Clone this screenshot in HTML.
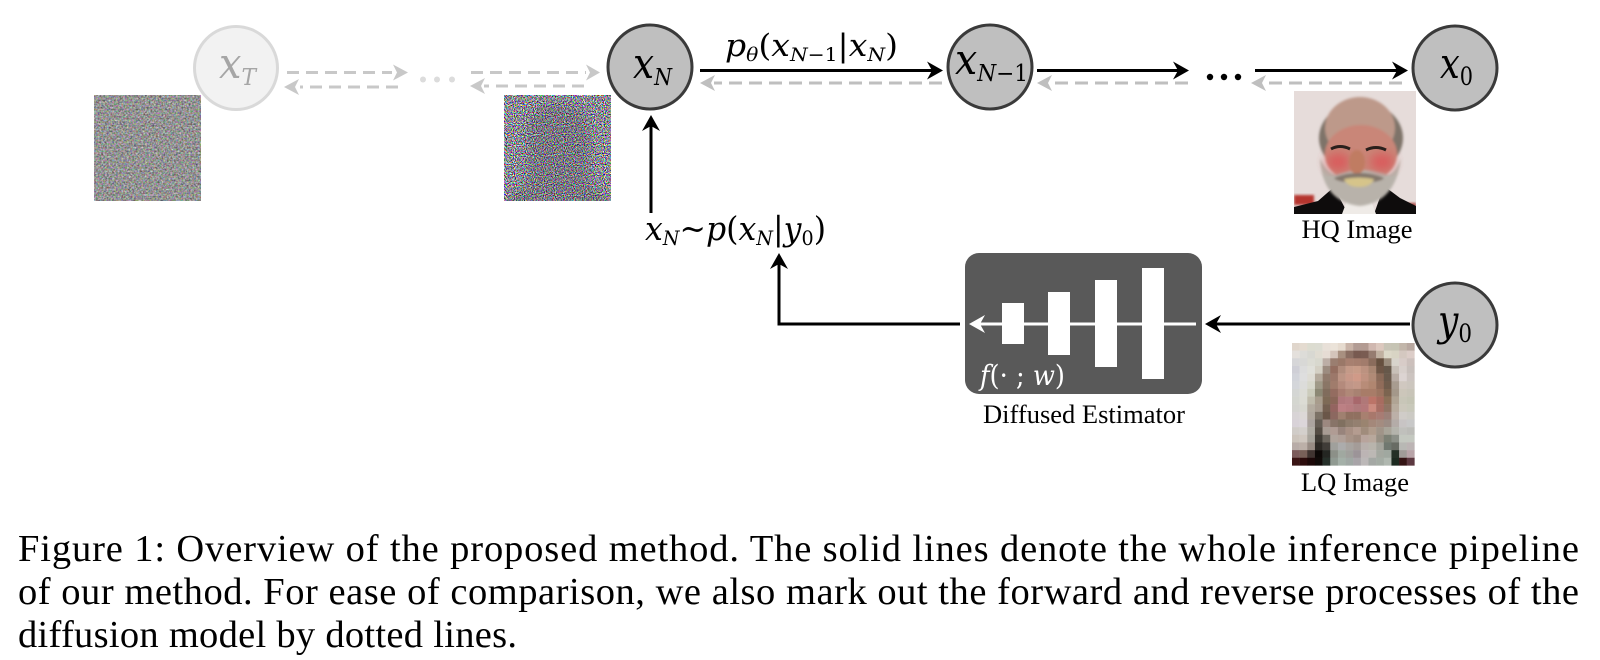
<!DOCTYPE html>
<html><head><meta charset="utf-8"><style>
html,body{margin:0;padding:0;background:#fff;width:1600px;height:660px;overflow:hidden}
svg{display:block}
text{font-family:"Liberation Serif",serif}
text.m{font-family:"DejaVu Serif",serif;font-style:italic}
.r{font-style:normal}
.n{fill:#bfbfbf;stroke:#3a3a3a;stroke-width:3}
.b{stroke:#000;stroke-width:3;fill:none}
.g{stroke:#bfbfbf;stroke-width:3;fill:none;stroke-dasharray:13 7}
.gl{stroke:#c8c8c8;stroke-width:3;fill:none;stroke-dasharray:12 7}
#q rect{width:1.03px;height:1.03px}
</style></head><body>
<svg width="1600" height="660" viewBox="0 0 1600 660" xmlns="http://www.w3.org/2000/svg">
<defs>
<filter id="nz1" x="0" y="0" width="100%" height="100%" color-interpolation-filters="sRGB"><feTurbulence type="fractalNoise" baseFrequency="0.55" numOctaves="2" seed="4"/><feColorMatrix type="matrix" values="0.75 0.15 0.15 0 0.05  0.15 0.75 0.15 0 0.05  0.15 0.15 0.75 0 0.05  0 0 0 0 1"/></filter>
<filter id="nz2" x="0" y="0" width="100%" height="100%" color-interpolation-filters="sRGB"><feTurbulence type="fractalNoise" baseFrequency="0.9" numOctaves="1" seed="9"/><feColorMatrix type="matrix" values="3.4 0 0 0 -1.15  0 3.4 0 0 -1.15  0 0 3.4 0 -1.1  0 0 0 0 1"/></filter>
<filter id="bl" x="-20%" y="-20%" width="140%" height="140%"><feGaussianBlur stdDeviation="1.2"/></filter>
<filter id="bl2" x="-30%" y="-30%" width="160%" height="160%"><feGaussianBlur stdDeviation="5"/></filter>
<clipPath id="c1"><rect x="1294" y="91" width="122" height="123"/></clipPath>
<clipPath id="c2"><rect x="504" y="95" width="107" height="106"/></clipPath>
</defs>

<!-- noise images -->
<rect x="94" y="95" width="107" height="106" filter="url(#nz1)"/>
<rect x="504" y="95" width="107" height="106" filter="url(#nz2)"/>
<g clip-path="url(#c2)"><g opacity=".2" filter="url(#bl2)"><path d="M527 205V135Q527 103 558 103Q590 103 590 135V205Z" fill="#3a3040"/><path d="M504 205l18-18 16 18zM611 205l-18-18-16 18z" fill="#102018"/></g></g>

<!-- faded node -->
<circle cx="236" cy="68" r="41.5" fill="#f2f2f2" stroke="#d9d9d9" stroke-width="3"/>
<text x="219" y="78" class="m" font-size="42" fill="#a6a6a6" textLength="37" lengthAdjust="spacingAndGlyphs">x<tspan font-size="23" dy="7">T</tspan></text>
<path d="M287 72.5H392" class="gl"/><path d="M393 64.5l15 8-15 8 4-8z" fill="#c8c8c8"/>
<path d="M398 87H300" class="gl"/><path d="M299 79l-15 8 15 8-4-8z" fill="#c8c8c8"/>
<g fill="#dcdcdc"><circle cx="423" cy="79.5" r="3"/><circle cx="437" cy="79.5" r="3"/><circle cx="452" cy="79.5" r="3"/></g>
<path d="M471 72.5H586" class="gl"/><path d="M586 64.5l14 8-14 8 4-8z" fill="#c8c8c8"/>
<path d="M584 86H484" class="gl"/><path d="M485 78l-15 8 15 8-4-8z" fill="#c8c8c8"/>

<!-- nodes -->
<circle cx="650" cy="67" r="42" class="n"/>
<circle cx="990" cy="67" r="42" class="n"/>
<circle cx="1455" cy="68" r="42" class="n"/>
<circle cx="1455" cy="325" r="42" class="n"/>
<text x="633" y="78" class="m" font-size="42" textLength="39" lengthAdjust="spacingAndGlyphs">x<tspan font-size="23" dy="7">N</tspan></text>
<text x="955" y="74" class="m" font-size="42" textLength="73" lengthAdjust="spacingAndGlyphs">x<tspan font-size="23" dy="7">N</tspan><tspan font-size="23" class="r">−1</tspan></text>
<text x="1440" y="78" class="m" font-size="42" textLength="33" lengthAdjust="spacingAndGlyphs">x<tspan font-size="25" class="r" dy="7">0</tspan></text>
<text x="1438" y="335" class="m" font-size="42" textLength="34" lengthAdjust="spacingAndGlyphs">y<tspan font-size="25" class="r" dy="7">0</tspan></text>

<!-- top solid arrows -->
<path d="M700 70.5H934" class="b"/><path d="M927 61.5l16 9-16 9 5-9z"/>
<path d="M1037 70.5H1180" class="b"/><path d="M1173 61.5l16 9-16 9 5-9z"/>
<path d="M1255 70.5H1399" class="b"/><path d="M1392 61.5l16 9-16 9 5-9z"/>
<g fill="#000"><circle cx="1210" cy="77" r="3.2"/><circle cx="1224" cy="77" r="3.2"/><circle cx="1238" cy="77" r="3.2"/></g>

<!-- gray reverse arrows -->
<path d="M942 83H714" class="g"/><path d="M715 75l-15 8 15 8-4-8z" fill="#bfbfbf"/>
<path d="M1188 83H1052" class="g"/><path d="M1052 75l-15 8 15 8-4-8z" fill="#bfbfbf"/>
<path d="M1402 83H1266" class="g"/><path d="M1266 75l-15 8 15 8-4-8z" fill="#bfbfbf"/>

<text x="725" y="56" class="m" font-size="31" textLength="173" lengthAdjust="spacingAndGlyphs">p<tspan font-size="19" dy="5">θ</tspan><tspan class="r" dy="-5">(</tspan>x<tspan font-size="19" dy="5">N</tspan><tspan font-size="19" class="r">−1</tspan><tspan class="r" dy="-5">|</tspan>x<tspan font-size="19" dy="5">N</tspan><tspan class="r" dy="-5">)</tspan></text>

<!-- vertical arrow -->
<path d="M651 213V124" class="b"/><path d="M642 131l9-16 9 16-9-5z"/>
<text x="645" y="240" class="m" font-size="33" textLength="181" lengthAdjust="spacingAndGlyphs">x<tspan font-size="20" dy="5">N</tspan><tspan class="r" dy="-5">~</tspan>p<tspan class="r">(</tspan>x<tspan font-size="20" dy="5">N</tspan><tspan class="r" dy="-5">|</tspan>y<tspan font-size="20" class="r" dy="5">0</tspan><tspan class="r" dy="-5">)</tspan></text>

<!-- estimator -->
<path d="M960 324H779V262" class="b"/><path d="M770 269l9-16 9 16-9-5z"/>
<rect x="965" y="253" width="237" height="141" rx="14" fill="#595959"/>
<g fill="#fff"><rect x="1002" y="303" width="22" height="41"/><rect x="1048" y="292" width="22" height="63"/><rect x="1095" y="280" width="22" height="87"/><rect x="1142" y="268" width="22" height="111"/></g>
<path d="M975 324H1196" stroke="#fff" stroke-width="3"/>
<path d="M985 315l-16 9 16 9-5-9z" fill="#fff"/>
<text x="980" y="385" class="m" font-size="28" fill="#fff" textLength="85" lengthAdjust="spacingAndGlyphs">f<tspan class="r">(· ;</tspan> w<tspan class="r">)</tspan></text>
<path d="M1410 324H1214" class="b"/><path d="M1221 315l-16 9 16 9-5-9z"/>
<text x="1084" y="423" font-size="26.5" text-anchor="middle">Diffused Estimator</text>

<!-- HQ face -->
<g clip-path="url(#c1)">
<rect x="1294" y="91" width="122" height="123" fill="#e6dcda"/>
<rect x="1294" y="195" width="20" height="10" fill="#b5352f" filter="url(#bl)"/>
<rect x="1402" y="203" width="14" height="6" fill="#a8403a" filter="url(#bl)"/>
<path d="M1294 214v-7l24-6 16-14 14 27zM1416 214v-8l-16-8-16-12-10 28z" fill="#0e0c0c"/>
<path d="M1342 214l6-16h22l6 16z" fill="#efebe7"/>
<g filter="url(#bl)">
<ellipse cx="1361" cy="138" rx="42" ry="36" fill="#7e7369"/>
<ellipse cx="1360" cy="128" rx="35" ry="31" fill="#bd998a"/>
<ellipse cx="1361" cy="154" rx="36" ry="29" fill="#c98678"/>
<path d="M1320 158q2 44 40 48q36-4 41-48q-5 14-13 17q-26-10-52 0q-10-3-16-17z" fill="#b8b2aa"/>
</g>
<g filter="url(#bl2)" opacity=".85"><ellipse cx="1338" cy="162" rx="12" ry="9" fill="#dc5458"/><ellipse cx="1382" cy="162" rx="12" ry="9" fill="#dc5458"/></g>
<g filter="url(#bl)">
<ellipse cx="1357" cy="162" rx="8" ry="12" fill="#c07c62"/>
<path d="M1334 178q25-10 50 0q-5 5-25 4q-20 1-25-4z" fill="#82766c"/>
<path d="M1344 179q15-3 30 0q-3 8-15 8q-12 0-15-8z" fill="#d6c48a"/>
</g>
<path d="M1331 149q9-5 19 0M1366 150q10-5 20 0" stroke="#2a201c" stroke-width="3" fill="none"/>
</g>
<text x="1357" y="238" font-size="26.5" text-anchor="middle">HQ Image</text>

<!-- LQ mosaic -->
<g id="q" transform="translate(1292 343) scale(7.65)">
<g transform="translate(0 0)"><rect x="0" fill="#e0d6cc"/><rect x="1" fill="#e4dbd0"/><rect x="2" fill="#dcdcd0"/><rect x="3" fill="#dcdcd2"/><rect x="4" fill="#e8e0d8"/><rect x="5" fill="#ebe3d9"/><rect x="6" fill="#e6dbcf"/><rect x="7" fill="#c9b4a8"/><rect x="8" fill="#b29c94"/><rect x="9" fill="#b39b92"/><rect x="10" fill="#d0b8b0"/><rect x="11" fill="#dcc8be"/><rect x="12" fill="#c8c4b6"/><rect x="13" fill="#c6c4b4"/><rect x="14" fill="#c2b6aa"/><rect x="15" fill="#b8a8a0"/></g>
<g transform="translate(0 1)"><rect x="0" fill="#e4e0dc"/><rect x="1" fill="#dddcd8"/><rect x="2" fill="#d8d8d2"/><rect x="3" fill="#e0dcd2"/><rect x="4" fill="#e6dcd4"/><rect x="5" fill="#d4c4ba"/><rect x="6" fill="#a89080"/><rect x="7" fill="#8a6e62"/><rect x="8" fill="#785a50"/><rect x="9" fill="#7a5c52"/><rect x="10" fill="#967c70"/><rect x="11" fill="#c0b0a0"/><rect x="12" fill="#dcd8c8"/><rect x="13" fill="#d8d4c4"/><rect x="14" fill="#d4c8c0"/><rect x="15" fill="#dccdc8"/></g>
<g transform="translate(0 2)"><rect x="0" fill="#d6d6d8"/><rect x="1" fill="#d8d8d6"/><rect x="2" fill="#dcdcd4"/><rect x="3" fill="#d8d8ce"/><rect x="4" fill="#bcaea6"/><rect x="5" fill="#9a7e70"/><rect x="6" fill="#9a7868"/><rect x="7" fill="#a88070"/><rect x="8" fill="#a67e6e"/><rect x="9" fill="#a27c6c"/><rect x="10" fill="#8a6c5c"/><rect x="11" fill="#66503f"/><rect x="12" fill="#9a8c7c"/><rect x="13" fill="#d8d4cc"/><rect x="14" fill="#d8ccc8"/><rect x="15" fill="#ccc0bc"/></g>
<g transform="translate(0 3)"><rect x="0" fill="#cfcfd6"/><rect x="1" fill="#dcdcdc"/><rect x="2" fill="#e0e0da"/><rect x="3" fill="#d4d0c4"/><rect x="4" fill="#9c8c80"/><rect x="5" fill="#946e60"/><rect x="6" fill="#b08c7c"/><rect x="7" fill="#c49a88"/><rect x="8" fill="#c89c88"/><rect x="9" fill="#bc9280"/><rect x="10" fill="#a88672"/><rect x="11" fill="#6e5646"/><rect x="12" fill="#66584a"/><rect x="13" fill="#c8c0b8"/><rect x="14" fill="#d8d0cc"/><rect x="15" fill="#c8c0bc"/></g>
<g transform="translate(0 4)"><rect x="0" fill="#d2d4da"/><rect x="1" fill="#dedede"/><rect x="2" fill="#dedcd4"/><rect x="3" fill="#b4aa9c"/><rect x="4" fill="#907a6c"/><rect x="5" fill="#9c786a"/><rect x="6" fill="#bc9484"/><rect x="7" fill="#c89888"/><rect x="8" fill="#d09a88"/><rect x="9" fill="#c09280"/><rect x="10" fill="#b08a76"/><rect x="11" fill="#8a6a58"/><rect x="12" fill="#6a5a4c"/><rect x="13" fill="#b8aca4"/><rect x="14" fill="#dcd4d2"/><rect x="15" fill="#ccc4c0"/></g>
<g transform="translate(0 5)"><rect x="0" fill="#d4d6da"/><rect x="1" fill="#dcdcda"/><rect x="2" fill="#d8d8cc"/><rect x="3" fill="#a09a88"/><rect x="4" fill="#8a7666"/><rect x="5" fill="#a07c6c"/><rect x="6" fill="#b48a7c"/><rect x="7" fill="#c09688"/><rect x="8" fill="#c49888"/><rect x="9" fill="#b88c78"/><rect x="10" fill="#b08670"/><rect x="11" fill="#906c5a"/><rect x="12" fill="#705c4c"/><rect x="13" fill="#a89c90"/><rect x="14" fill="#d0c8c0"/><rect x="15" fill="#ccc6be"/></g>
<g transform="translate(0 6)"><rect x="0" fill="#d4d6d4"/><rect x="1" fill="#dcdcd6"/><rect x="2" fill="#ccccbc"/><rect x="3" fill="#8c8874"/><rect x="4" fill="#806c5c"/><rect x="5" fill="#946c60"/><rect x="6" fill="#a87c70"/><rect x="7" fill="#b08878"/><rect x="8" fill="#a88272"/><rect x="9" fill="#a87c68"/><rect x="10" fill="#a87c68"/><rect x="11" fill="#9c7460"/><rect x="12" fill="#7c6450"/><rect x="13" fill="#a4988a"/><rect x="14" fill="#ccc6ba"/><rect x="15" fill="#c8c4b8"/></g>
<g transform="translate(0 7)"><rect x="0" fill="#d4d6d0"/><rect x="1" fill="#dcdcd4"/><rect x="2" fill="#c0bcac"/><rect x="3" fill="#a89c8c"/><rect x="4" fill="#7e6a56"/><rect x="5" fill="#8a6658"/><rect x="6" fill="#b0787c"/><rect x="7" fill="#b47c80"/><rect x="8" fill="#a8686c"/><rect x="9" fill="#b07878"/><rect x="10" fill="#bc7468"/><rect x="11" fill="#a86c60"/><rect x="12" fill="#8c7058"/><rect x="13" fill="#b0a494"/><rect x="14" fill="#c8c6b8"/><rect x="15" fill="#c4c4b4"/></g>
<g transform="translate(0 8)"><rect x="0" fill="#d4d4d0"/><rect x="1" fill="#d8d8d0"/><rect x="2" fill="#b4aca0"/><rect x="3" fill="#a89c90"/><rect x="4" fill="#745f50"/><rect x="5" fill="#946460"/><rect x="6" fill="#bc8084"/><rect x="7" fill="#b87c80"/><rect x="8" fill="#b07a7c"/><rect x="9" fill="#b4787a"/><rect x="10" fill="#cc8c80"/><rect x="11" fill="#a86e64"/><rect x="12" fill="#907464"/><rect x="13" fill="#b8ac9e"/><rect x="14" fill="#ccc8bc"/><rect x="15" fill="#c8c8ba"/></g>
<g transform="translate(0 9)"><rect x="0" fill="#d8d4d6"/><rect x="1" fill="#dcd8d6"/><rect x="2" fill="#b0a89e"/><rect x="3" fill="#7c7266"/><rect x="4" fill="#6a5648"/><rect x="5" fill="#8c6860"/><rect x="6" fill="#a08070"/><rect x="7" fill="#907060"/><rect x="8" fill="#907060"/><rect x="9" fill="#a88070"/><rect x="10" fill="#a8786c"/><rect x="11" fill="#a87c74"/><rect x="12" fill="#9c8078"/><rect x="13" fill="#bcb0a8"/><rect x="14" fill="#d0ccc8"/><rect x="15" fill="#cccac4"/></g>
<g transform="translate(0 10)"><rect x="0" fill="#d8d2d8"/><rect x="1" fill="#dcd6da"/><rect x="2" fill="#aca4a0"/><rect x="3" fill="#645c54"/><rect x="4" fill="#9c8880"/><rect x="5" fill="#887468"/><rect x="6" fill="#807060"/><rect x="7" fill="#8e7c6c"/><rect x="8" fill="#948070"/><rect x="9" fill="#9a8470"/><rect x="10" fill="#a4887a"/><rect x="11" fill="#a48c80"/><rect x="12" fill="#9c8c84"/><rect x="13" fill="#b4aca8"/><rect x="14" fill="#c8c4c4"/><rect x="15" fill="#c8c8c8"/></g>
<g transform="translate(0 11)"><rect x="0" fill="#d0ccc8"/><rect x="1" fill="#d4d0cc"/><rect x="2" fill="#b0aca4"/><rect x="3" fill="#544c44"/><rect x="4" fill="#a89c94"/><rect x="5" fill="#b09c94"/><rect x="6" fill="#98847c"/><rect x="7" fill="#a89084"/><rect x="8" fill="#b49c90"/><rect x="9" fill="#a08c7c"/><rect x="10" fill="#b09c8c"/><rect x="11" fill="#a09488"/><rect x="12" fill="#a8a498"/><rect x="13" fill="#b4b4ac"/><rect x="14" fill="#c0c0bc"/><rect x="15" fill="#bcbcb8"/></g>
<g transform="translate(0 12)"><rect x="0" fill="#ccc4bc"/><rect x="1" fill="#d0c8c0"/><rect x="2" fill="#a8a49c"/><rect x="3" fill="#3e3a34"/><rect x="4" fill="#6c665e"/><rect x="5" fill="#b0a49c"/><rect x="6" fill="#b0a098"/><rect x="7" fill="#a89488"/><rect x="8" fill="#a08c80"/><rect x="9" fill="#b8a49c"/><rect x="10" fill="#b8a89c"/><rect x="11" fill="#989084"/><rect x="12" fill="#7c8074"/><rect x="13" fill="#8c9088"/><rect x="14" fill="#c4c8c0"/><rect x="15" fill="#c4c8c0"/></g>
<g transform="translate(0 13)"><rect x="0" fill="#b8aca8"/><rect x="1" fill="#bcb0a8"/><rect x="2" fill="#988c84"/><rect x="3" fill="#2c2824"/><rect x="4" fill="#403c38"/><rect x="5" fill="#a0a09c"/><rect x="6" fill="#acacac"/><rect x="7" fill="#a8a4a0"/><rect x="8" fill="#a49c98"/><rect x="9" fill="#b8b0ac"/><rect x="10" fill="#b8b4ac"/><rect x="11" fill="#a4a49c"/><rect x="12" fill="#707870"/><rect x="13" fill="#686c64"/><rect x="14" fill="#b8b8b4"/><rect x="15" fill="#bcb4b4"/></g>
<g transform="translate(0 14)"><rect x="0" fill="#7c5c5c"/><rect x="1" fill="#786058"/><rect x="2" fill="#403430"/><rect x="3" fill="#0c0806"/><rect x="4" fill="#242622"/><rect x="5" fill="#8c9088"/><rect x="6" fill="#a0a8a0"/><rect x="7" fill="#a0a09c"/><rect x="8" fill="#9c9498"/><rect x="9" fill="#bcb4b4"/><rect x="10" fill="#bcb8b4"/><rect x="11" fill="#a4a8a0"/><rect x="12" fill="#a0a8a0"/><rect x="13" fill="#243026"/><rect x="14" fill="#a09c98"/><rect x="15" fill="#b8a4a8"/></g>
<g transform="translate(0 15)"><rect x="0" fill="#3a1414"/><rect x="1" fill="#2c0c0c"/><rect x="2" fill="#1c0808"/><rect x="3" fill="#100a08"/><rect x="4" fill="#26302a"/><rect x="5" fill="#909a92"/><rect x="6" fill="#a4b0a8"/><rect x="7" fill="#a0a8a4"/><rect x="8" fill="#a8a4a8"/><rect x="9" fill="#bcb8b8"/><rect x="10" fill="#a4a8a4"/><rect x="11" fill="#a4aca4"/><rect x="12" fill="#b0b8b0"/><rect x="13" fill="#1c2a20"/><rect x="14" fill="#341414"/><rect x="15" fill="#5c3840"/></g>
</g>
<text x="1355" y="491" font-size="26.5" text-anchor="middle">LQ Image</text>

<!-- caption -->
<text x="18" y="561" font-size="38.5" textLength="1561" lengthAdjust="spacing">Figure 1: Overview of the proposed method. The solid lines denote the whole inference pipeline</text>
<text x="18" y="604" font-size="38.5" textLength="1561" lengthAdjust="spacing">of our method. For ease of comparison, we also mark out the forward and reverse processes of the</text>
<text x="18" y="647" font-size="38.5" textLength="499" lengthAdjust="spacing">diffusion model by dotted lines.</text>
</svg>
</body></html>
